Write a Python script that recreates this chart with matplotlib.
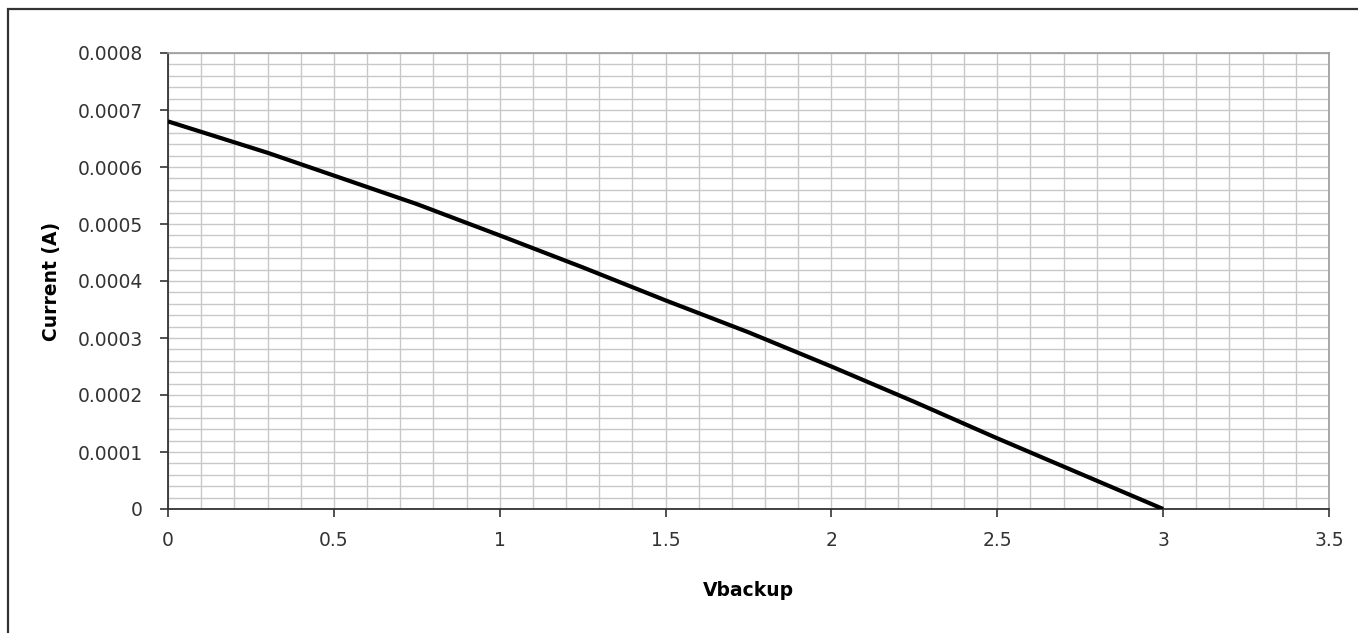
#!/usr/bin/env python3

import numpy as np
import matplotlib.pyplot as plt
from matplotlib.patches import Rectangle
from matplotlib.ticker import MultipleLocator, FuncFormatter

# values
vbackup = [0.0, 0.3, 0.5, 0.75, 1.0, 1.25, 1.5, 1.75, 2.0, 2.25, 2.5, 2.75, 3.0]
current = [0.00068, 0.000625, 0.000585, 0.000535, 0.00048, 0.000424, 0.000366,
           0.00031, 0.00025, 0.000188, 0.000124, 0.000062, 0.0]

xticks = [0, 0.5, 1, 1.5, 2, 2.5, 3, 3.5]
yticks = [0, 0.0001, 0.0002, 0.0003, 0.0004, 0.0005, 0.0006, 0.0007, 0.0008]


def fmt_y(v, pos):
    if abs(v) < 1e-12:
        return "0"
    return "%.4f" % v


def fmt_x(v, pos):
    return ("%g" % v)


def main():
    plt.rcParams['font.family'] = ['DejaVu Sans']
    W, H = 1358, 633
    fig = plt.figure(figsize=(W / 100, H / 100), dpi=100)
    fig.patch.set_facecolor('white')

    # outer chart border (cut off at right/bottom in the reference)
    fig.add_artist(Rectangle((8 / W, -0.1), 1.2, 1 - 9 / H + 0.1,
                             transform=fig.transFigure, fill=False,
                             edgecolor='#333333', lw=1.6, clip_on=False))

    ax = fig.add_axes([168 / W, 1 - 509 / H, (1329 - 168) / W, (509 - 53) / H])

    ax.set_xlim(0, 3.5)
    ax.set_ylim(0, 0.0008)
    ax.xaxis.set_major_locator(plt.FixedLocator(xticks))
    ax.yaxis.set_major_locator(plt.FixedLocator(yticks))
    ax.xaxis.set_minor_locator(MultipleLocator(0.1))
    ax.yaxis.set_minor_locator(MultipleLocator(0.00002))
    ax.xaxis.set_major_formatter(FuncFormatter(fmt_x))
    ax.yaxis.set_major_formatter(FuncFormatter(fmt_y))

    ax.grid(True, which='both', color='#c8c8c8', lw=1.0)
    ax.set_axisbelow(True)

    ax.plot(vbackup, current, color='black', lw=3.0, solid_capstyle='butt', zorder=3)

    for s in ['top', 'right']:
        ax.spines[s].set_color('#9a9a9a')
        ax.spines[s].set_linewidth(1.2)
    for s in ['left', 'bottom']:
        ax.spines[s].set_color('#333333')
        ax.spines[s].set_linewidth(1.3)

    ax.tick_params(which='major', direction='out', length=6, width=1.2,
                   color='#333333', labelsize=13.5, labelcolor='#333333')
    ax.tick_params(axis='y', pad=12)
    ax.tick_params(axis='x', pad=10)
    ax.tick_params(which='minor', length=0)

    ax.set_xlabel('Vbackup', fontsize=13.5, fontweight='bold', labelpad=22)
    ax.set_ylabel('Current (A)', fontsize=13.5, fontweight='bold', labelpad=12)

    fig.savefig('out.png', dpi=100)


if __name__ == "__main__":
    main()
